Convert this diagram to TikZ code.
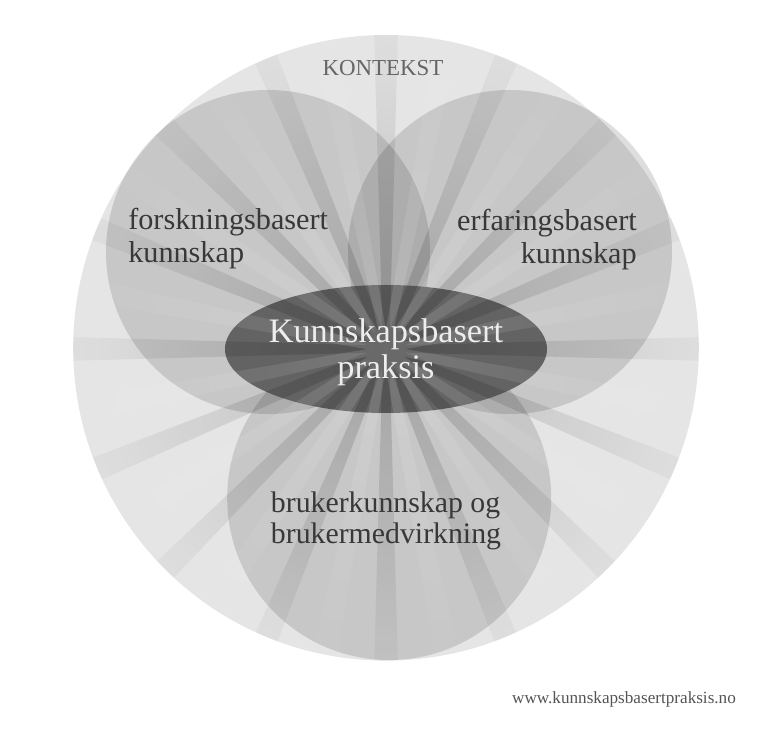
\documentclass[tikz,border=0pt]{standalone}
\usepackage{fontspec}
\setmainfont{Liberation Serif}
\usetikzlibrary{shapes.geometric, fadings}

\definecolor{kontekstfarge}{gray}{0.9}
\definecolor{praksisfarge}{gray}{0.39}
\definecolor{tekstfarge}{gray}{0.22}
\definecolor{konteksttekst}{gray}{0.4}
\definecolor{urlfarge}{gray}{0.33}

\tikzfading[name=rayfade, inner color=transparent!0, outer color=transparent!85]

\tikzset{
    sirkel/.style={circle, fill=black, fill opacity=0.13, minimum size=8.1cm, inner sep=0pt},
    etikett/.style={text=tekstfarge, inner sep=0pt, font={\fontsize{21.5}{23.5}\selectfont}}
}

\begin{document}
\begin{tikzpicture}
        \useasboundingbox (-9.65,-9.5) rectangle (9.55,8.725);

        % Контекст
        \node[circle, fill=kontekstfarge, minimum size=15.64cm, inner sep=0pt] (kontekst) at (0,0.03) {};

        % Круги
        \node[sirkel] (forsk) at (-2.95,2.425) {};
        \node[sirkel] (erfar) at (3.1,2.425) {};
        \node[sirkel] (bruker) at (0.08,-3.725) {};

        % Центр
        \node[ellipse, fill=praksisfarge, minimum width=8.05cm, minimum height=3.2cm, inner sep=0pt] (kbp) at (0,0) {};

        % Лучи
        \begin{scope}
            \clip (kontekst.center) circle (7.82);
            \fill[black, opacity=0.17, path fading=rayfade]
                \foreach \a in {0,22.5,...,337.5} {([rotate=\a]0,-0.08) -- ([rotate=\a]8,-0.3) -- ([rotate=\a]8,0.3) -- ([rotate=\a]0,0.08) -- cycle};
            \fill[white, opacity=0.14, path fading=rayfade]
                \foreach \a in {11.25,33.75,...,348.75} {([rotate=\a]0,-0.08) -- ([rotate=\a]8,-0.3) -- ([rotate=\a]8,0.3) -- ([rotate=\a]0,0.08) -- cycle};
        \end{scope}

        % Тексты
        \node[anchor=base, text=konteksttekst, inner sep=0pt, font={\fontsize{16.3}{18}\selectfont}] (kontekstlabel) at (-0.075,6.825) {KONTEKST};
        \node[etikett, anchor=west, align=left] (forsklabel) at (-6.45,2.75) {forskningsbasert\\kunnskap};
        \node[etikett, anchor=east, align=right] (erfarlabel) at (6.275,2.725) {erfaringsbasert\\kunnskap};
        \node[etikett, align=left, font={\fontsize{21.2}{22}\selectfont}] (brukerlabel) at (0,-4.3) {brukerkunnskap og\\brukermedvirkning};
        \node[text=white!93!black, align=center, inner sep=0pt, font={\fontsize{24.4}{25.6}\selectfont}] (kbplabel) at (0,-0.075) {Kunnskapsbasert\\praksis};

        \node[anchor=base, text=urlfarge, inner sep=0pt, font={\fontsize{12.2}{14}\selectfont}] (url) at (5.95,-8.85) {www.kunnskapsbasertpraksis.no};
    \end{tikzpicture}
\end{document}
